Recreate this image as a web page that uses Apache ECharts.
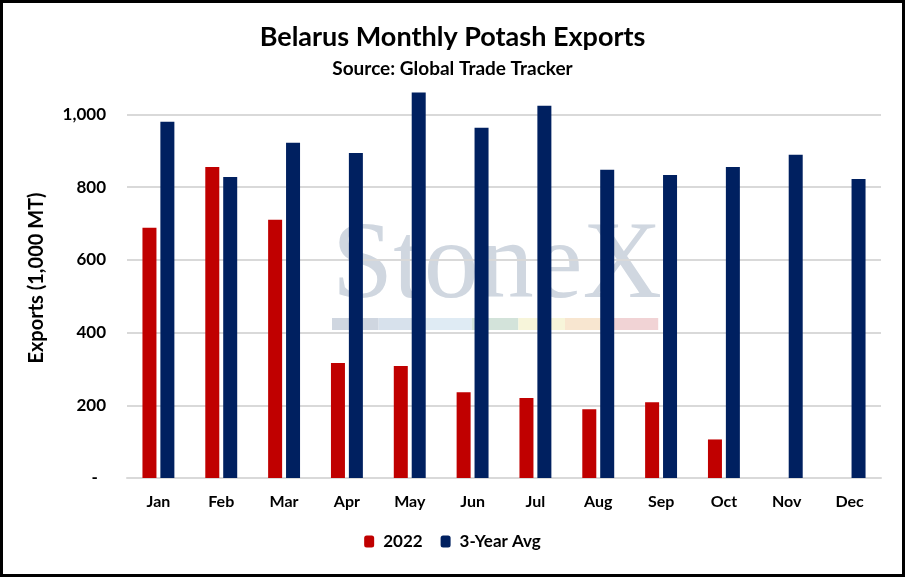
<!DOCTYPE html>
<html>
<head>
<meta charset="utf-8">
<script src="https://cdn.jsdelivr.net/npm/echarts@6/dist/echarts.min.js"></script>
<style>
  html, body { margin: 0; padding: 0; background: #fff; }
  #chart { width: 905px; height: 577px; }
</style>
</head>
<body>
<div id="chart"></div>
<script>
// months on the x axis
var months = ['Jan', 'Feb', 'Mar', 'Apr', 'May', 'Jun', 'Jul', 'Aug', 'Sep', 'Oct', 'Nov', 'Dec'];
// 2022 exports, 1,000 MT (no data for Nov/Dec yet)
var exports2022 = [688, 855, 710, 316, 308, 236, 220, 189, 208, 106, null, null];
// 3-year average, 1,000 MT
var avg3yr = [980, 828, 922, 894, 1060, 963, 1024, 848, 833, 855, 889, 822];
// watermark band colours
var bandColors = ['#cfd6e0', '#d7e1ec', '#dfebf4', '#d3e3da', '#f7f5da', '#f8e6d0', '#f1d3d5'];

var font = 'Lato, "Open Sans", sans-serif';

var chart = echarts.init(document.getElementById('chart'));

// logo band under the watermark text
var band = bandColors.map(function (c, i) {
  return {
    type: 'rect',
    shape: { x: 332 + i * 46.6, y: 318, width: 46.6, height: 12 },
    style: { fill: c },
    z: -10
  };
});

var option = {
  animation: false,
  backgroundColor: '#fff',
  title: {
    text: 'Belarus Monthly Potash Exports',
    subtext: 'Source: Global Trade Tracker',
    left: 'center',
    top: 19,
    itemGap: 8,
    textStyle: { fontFamily: font, fontWeight: 'bold', fontSize: 27, color: '#000' },
    subtextStyle: { fontFamily: font, fontWeight: 'bold', fontSize: 19, color: '#000' }
  },
  legend: {
    data: ['2022', '3-Year Avg'],
    bottom: 22,
    left: 'center',
    itemWidth: 10,
    itemHeight: 12,
    itemGap: 18,
    textStyle: { fontFamily: font, fontWeight: 'bold', fontSize: 17, color: '#000', padding: [0, 0, 0, 4] }
  },
  grid: { left: 127, right: 24, top: 78, bottom: 99 },
  xAxis: {
    type: 'category',
    data: months,
    axisTick: { show: false },
    axisLine: { lineStyle: { color: '#d9d9d9', width: 2 } },
    axisLabel: { margin: 16, fontFamily: font, fontWeight: 'bold', fontSize: 16, color: '#000' }
  },
  yAxis: {
    type: 'value',
    min: 0,
    max: 1100,
    interval: 200,
    name: 'Exports (1,000 MT)',
    nameLocation: 'middle',
    nameGap: 80,
    nameTextStyle: { fontFamily: font, fontSize: 20, fontWeight: 'bold', color: '#000' },
    axisLine: { show: false },
    axisTick: { show: false },
    axisLabel: {
      margin: 21,
      fontFamily: font, fontWeight: 'bold', fontSize: 17, color: '#000',
      formatter: function (v) {
        if (v === 0) return '-  ';
        if (v > 1000) return '';
        return v.toLocaleString('en-US');
      }
    },
    splitLine: {
      lineStyle: {
        width: 2,
        color: ['#d9d9d9', '#d9d9d9', '#d9d9d9', '#d9d9d9', '#d9d9d9', '#d9d9d9', 'rgba(0,0,0,0)']
      }
    }
  },
  series: [
    {
      name: '2022',
      type: 'bar',
      data: exports2022,
      barWidth: 14,
      barGap: '28%',
      itemStyle: { color: '#c00000' }
    },
    {
      name: '3-Year Avg',
      type: 'bar',
      data: avg3yr,
      barWidth: 14,
      itemStyle: { color: '#002060' }
    }
  ],
  graphic: [
    {
      type: 'text',
      left: 332,
      top: 213,
      z: -10,
      style: {
        text: 'StoneX',
        font: '110px "Liberation Serif", "DejaVu Serif", serif',
        fill: '#d0d7e0'
      }
    }
  ].concat(band).concat([
    {
      type: 'rect',
      shape: { x: 1.5, y: 1.5, width: 902, height: 574 },
      style: { fill: 'none', stroke: '#000', lineWidth: 3 },
      z: 100
    }
  ])
};

chart.setOption(option);
</script>
</body>
</html>
